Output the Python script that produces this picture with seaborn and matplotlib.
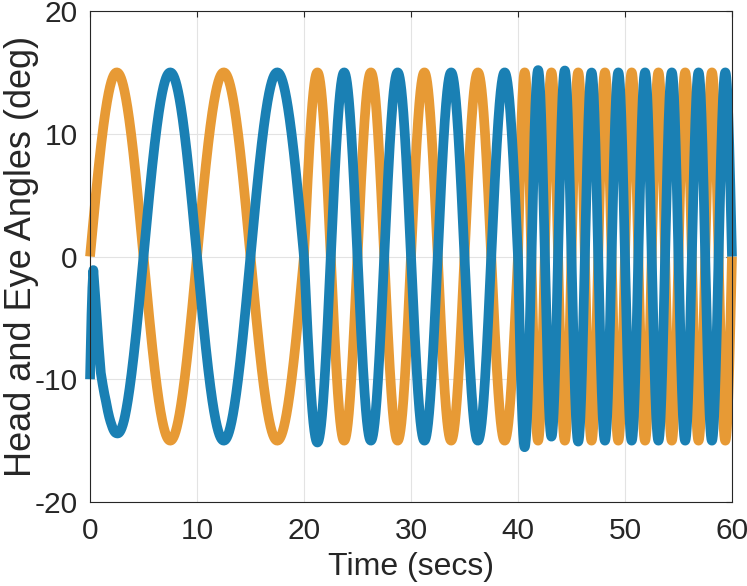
import numpy as np
import pandas as pd
import matplotlib
matplotlib.use("Agg")
import matplotlib.pyplot as plt
import seaborn as sns

# Head motion: sinusoid whose period changes at each segment start
seg_starts = [0, 20, 40]
seg_periods = [10, 5, 2.5]
head_amp = 15
t_end = 60

# Eye = -head + offset (offsets: initial transient,
# and small over/undershoots after the frequency changes)
eye_knot_t = [0, 0.1, 0.2, 0.31, 0.5, 0.75, 1.0, 1.5, 2.0, 2.5, 3.2, 4.5,
              20, 20.6, 21.25, 22.5, 23.75,
              40, 40.3, 40.6, 41.25, 41.9, 42.5, 43.1, 44.4, 45.6, 47, 60]
eye_knot_off = [-10, -5, -1, 1.8, 1.3, 0.2, -0.6, 0.3, 0.6, 0.6, 0.3, 0,
                0, -0.1, -0.15, -0.05, 0,
                0, -0.3, -0.55, -0.1, 0.2, 0.3, 0.33, 0.15, -0.08, 0, 0]

head_color = "#e79a35"
eye_color = "#1a80b4"

t = np.linspace(0, t_end, 6001)
head = np.zeros_like(t)
for i, start in enumerate(seg_starts):
    stop = seg_starts[i + 1] if i + 1 < len(seg_starts) else t_end + 1
    m = (t >= start) & (t < stop)
    head[m] = head_amp * np.sin(2 * np.pi * (t[m] - start) / seg_periods[i])
eye = -head + np.interp(t, eye_knot_t, eye_knot_off)

df = pd.DataFrame({"time": t, "head": head, "eye": eye})

sns.set_theme(style="white")
plt.rcParams["font.family"] = ["Liberation Sans", "DejaVu Sans"]
plt.rcParams["axes.unicode_minus"] = False

fig = plt.figure(figsize=(7.47, 5.86), dpi=100)
ax = fig.add_axes([0.1205, 0.1433, 0.8594, 0.8379])

sns.lineplot(data=df, x="time", y="head", ax=ax, color=head_color,
             linewidth=7, sort=False, estimator=None)
sns.lineplot(data=df, x="time", y="eye", ax=ax, color=eye_color,
             linewidth=7, sort=False, estimator=None)
for ln in ax.get_lines():
    ln.set_solid_capstyle("butt")
    ln.set_clip_on(False)

ax.set_xlim(0, 60)
ax.set_ylim(-20, 20)
ax.set_xticks([0, 10, 20, 30, 40, 50, 60])
ax.set_yticks([-20, -10, 0, 10, 20])
ax.grid(True, color="#e3e3e3", linewidth=0.8)
ax.set_axisbelow(True)
for s in ax.spines.values():
    s.set_color("#262626")
    s.set_linewidth(0.8)
    s.set_zorder(5)
ax.tick_params(direction="in", length=4.5, width=0.8, color="#262626",
               top=True, right=True, labelsize=21.5, labelcolor="#262626")
ax.tick_params(axis="x", pad=11)
ax.tick_params(axis="y", pad=9)
ax.set_xlabel("Time (secs)", fontsize=23, color="#262626", labelpad=5)
ax.set_ylabel("Head and Eye Angles (deg)", fontsize=26, color="#262626")
ax.yaxis.set_label_coords(-0.08, 0.5)

fig.savefig("out.png", dpi=100)
